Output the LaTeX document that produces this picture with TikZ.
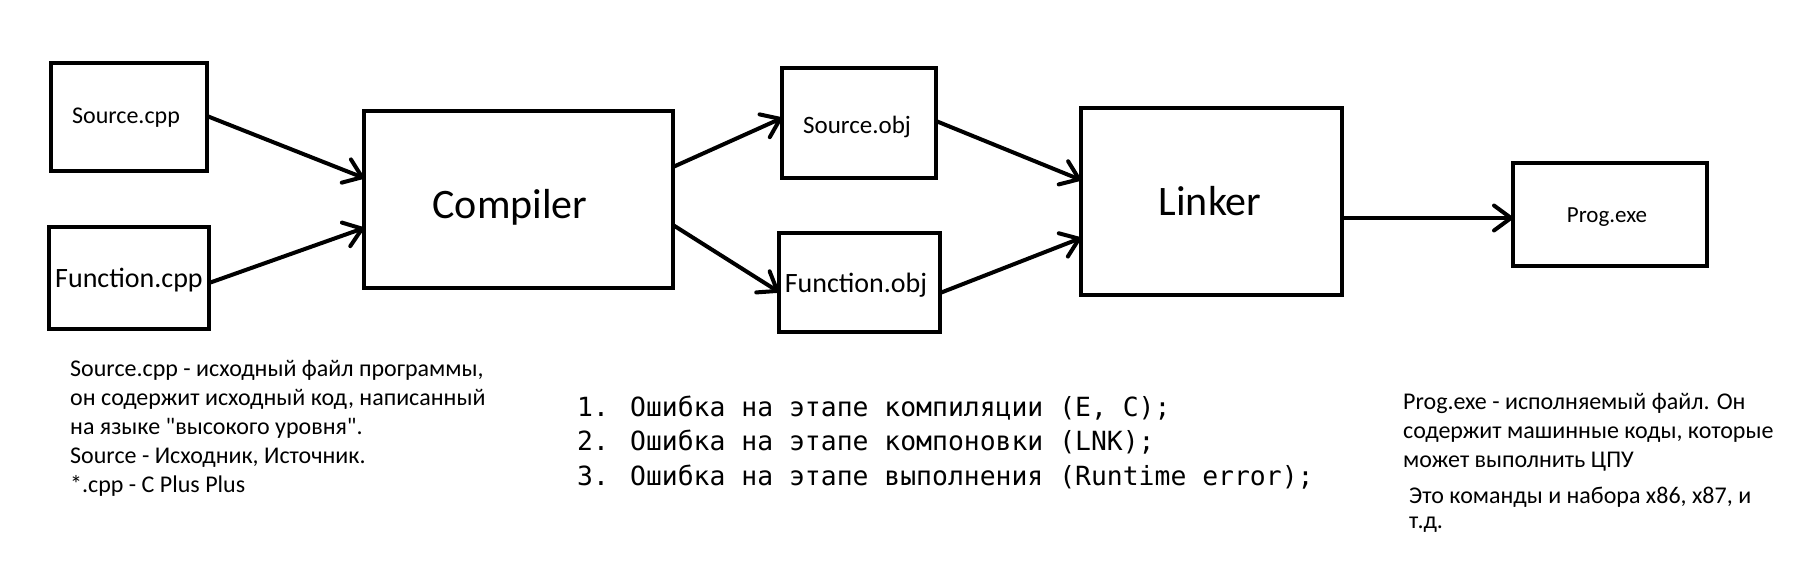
\documentclass[tikz,border=0pt]{standalone}
\usepackage{fontspec}
\setmainfont{Carlito}[Ligatures=TeXOff]
\newfontfamily\monof{DejaVu Sans Mono}
\usetikzlibrary{arrows.meta}
\begin{document}
\begin{tikzpicture}[x=1pt,y=-1pt,
  box/.style={draw, line width=4pt, inner sep=0pt, outer sep=0pt, rectangle},
  arr/.style={line width=4pt, -{Straight Barb[length=17pt,width=25pt,round]}},
  lbl/.style={anchor=base, inner sep=0pt},
  note/.style={anchor=base west, align=left, inner sep=0pt}]
\useasboundingbox (0,0) rectangle (1796,574);
% boxes
\node[box, minimum width=156pt, minimum height=108pt] (sc) at (129,117) {};
\node[box, minimum width=160pt, minimum height=102pt] (fc) at (129,278) {};
\node[box, minimum width=309pt, minimum height=177pt] (comp) at (518.5,199.5) {};
\node[box, minimum width=154pt, minimum height=110pt] (so) at (859,123) {};
\node[box, minimum width=161pt, minimum height=99pt] (fo) at (859.5,282.5) {};
\node[box, minimum width=261pt, minimum height=187pt] (link) at (1211.5,201.5) {};
\node[box, minimum width=194pt, minimum height=103pt] (prog) at (1610,214.5) {};
% labels
\node[lbl, font=\fontsize{24}{24}\selectfont] (tsc) at (126,123) {Source.cpp};
\node[lbl, font=\fontsize{28}{28}\selectfont] (tfc) at (129,287) {Function.cpp};
\node[lbl, font=\fontsize{42}{42}\selectfont] (tcomp) at (510,218) {Compiler};
\node[lbl, font=\fontsize{25}{25}\selectfont] (tso) at (857,133) {Source.obj};
\node[lbl, font=\fontsize{28}{28}\selectfont] (tfo) at (856,292) {Function.obj};
\node[lbl, font=\fontsize{42}{42}\selectfont] (tlink) at (1210,215) {Linker};
\node[lbl, font=\fontsize{23}{23}\selectfont] (tprog) at (1607,222) {Prog.exe};
% arrows
\draw[arr] (sc.east |- 0,116) -- (comp.west |- 0,178);
\draw[arr] (fc.east |- 0,283) -- (comp.west |- 0,228);
\draw[arr] (comp.east |- 0,167) -- (so.west |- 0,118);
\draw[arr] (comp.east |- 0,225) -- (fo.west |- 0,292);
\draw[arr] (so.east |- 0,121) -- (link.west |- 0,180);
\draw[arr] (fo.east |- 0,293) -- (link.west |- 0,238);
\draw[arr] (link.east |- 0,218) -- (prog.west |- 0,218);
% notes (anchored at the baseline of their last line)
\node[note, font=\fontsize{24}{29}\selectfont] (n1) at (70,492)
 {Source.cpp - исходный файл программы,\\
  он содержит исходный код, написанный\\
  на языке "высокого уровня".\\
  Source - Исходник, Источник.\\
  *.cpp - C Plus Plus};
\node[note, font=\monof\fontsize{26.4}{34.5}\selectfont] (n2) at (577,485)
 {1. Ошибка на этапе компиляции (E, C);\\
  2. Ошибка на этапе компоновки (LNK);\\
  3. Ошибка на этапе выполнения (Runtime error);};
\node[note, font=\fontsize{24}{29}\selectfont] (n3) at (1403,528)
 {Prog.exe - исполняемый файл. Он\\
  содержит машинные коды, которые\\
  может выполнить ЦПУ\\[7pt]
  \hspace*{6pt}Это команды и набора x86, x87, и\\[-4pt]
  \hspace*{6pt}т.д.};
\end{tikzpicture}
\end{document}
